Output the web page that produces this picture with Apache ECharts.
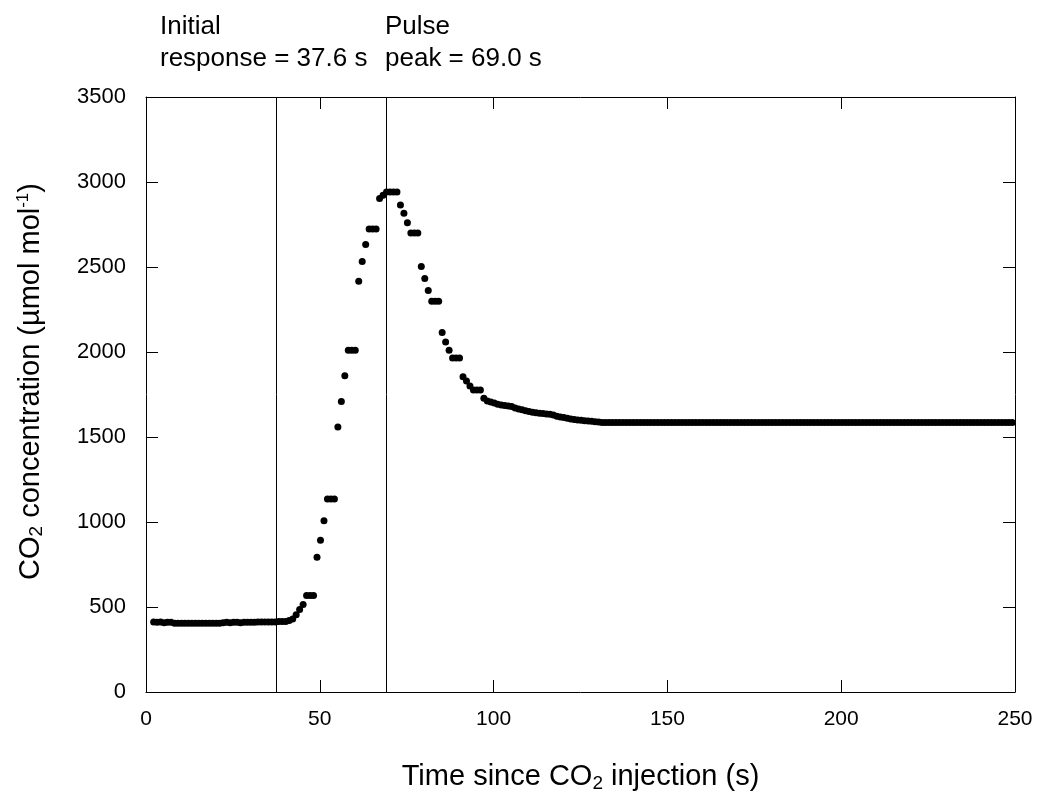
<!DOCTYPE html>
<html>
<head>
<meta charset="utf-8">
<script src="https://cdn.jsdelivr.net/npm/echarts@6/dist/echarts.min.js"></script>
<style>
html,body{margin:0;padding:0;background:#fff;}
#chart{width:1038px;height:798px;}
</style>
</head>
<body>
<div id="chart"></div>
<script>
// ---- data ----
const timeSeconds = [
  2.2,3.2,4.2,5.2,6.2,7.2,8.2,9.2,10.2,11.2,12.2,13.2,14.2,15.2,16.2,17.2,18.2,19.2,20.2,21.2,
  22.2,23.2,24.2,25.2,26.2,27.2,28.2,29.2,30.2,31.2,32.2,33.2,34.2,35.2,36.2,37.2,38.2,39.2,40.2,41.2,
  42.2,43.2,44.2,45.2,46.2,47.2,48.2,49.2,50.2,51.2,52.2,53.2,54.2,55.2,56.2,57.2,58.2,59.2,60.2,61.2,
  62.2,63.2,64.2,65.2,66.2,67.2,68.2,69.2,70.2,71.2,72.2,73.2,74.2,75.2,76.2,77.2,78.2,79.2,80.2,81.2,
  82.2,83.2,84.2,85.2,86.2,87.2,88.2,89.2,90.2,91.2,92.2,93.2,94.2,95.2,96.2,97.2,98.2,99.2,100.2,101.2,
  102.2,103.2,104.2,105.2,106.2,107.2,108.2,109.2,110.2,111.2,112.2,113.2,114.2,115.2,116.2,117.2,118.2,119.2,120.2,121.2,
  122.2,123.2,124.2,125.2,126.2,127.2,128.2,129.2,130.2,131.2,132.2,133.2,134.2,135.2,136.2,137.2,138.2,139.2,140.2,141.2,
  142.2,143.2,144.2,145.2,146.2,147.2,148.2,149.2,150.2,151.2,152.2,153.2,154.2,155.2,156.2,157.2,158.2,159.2,160.2,161.2,
  162.2,163.2,164.2,165.2,166.2,167.2,168.2,169.2,170.2,171.2,172.2,173.2,174.2,175.2,176.2,177.2,178.2,179.2,180.2,181.2,
  182.2,183.2,184.2,185.2,186.2,187.2,188.2,189.2,190.2,191.2,192.2,193.2,194.2,195.2,196.2,197.2,198.2,199.2,200.2,201.2,
  202.2,203.2,204.2,205.2,206.2,207.2,208.2,209.2,210.2,211.2,212.2,213.2,214.2,215.2,216.2,217.2,218.2,219.2,220.2,221.2,
  222.2,223.2,224.2,225.2,226.2,227.2,228.2,229.2,230.2,231.2,232.2,233.2,234.2,235.2,236.2,237.2,238.2,239.2,240.2,241.2,
  242.2,243.2,244.2,245.2,246.2,247.2,248.2,249.2
];
const co2Concentration = [
  412,410,412,408,410,410,405,405,405,405,405,405,405,405,405,405,405,405,405,405,
  408,410,408,410,410,408,410,410,410,410,412,412,412,412,412,412,415,415,415,420,
  430,455,485,515,567,567,567,792,893,1008,1135,1135,1135,1559,1709,1860,2010,2010,2010,2416,
  2532,2632,2723,2723,2723,2903,2922,2941,2941,2941,2941,2864,2816,2760,2700,2700,2700,2503,2433,2362,
  2298,2298,2298,2115,2059,2010,1964,1964,1964,1854,1830,1800,1777,1777,1777,1728,1712,1706,1700,1692,
  1688,1685,1682,1680,1670,1665,1660,1655,1650,1646,1643,1640,1638,1636,1634,1630,1622,1618,1614,1610,
  1606,1603,1600,1598,1596,1594,1592,1590,1588,1585,1585,1585,1585,1585,1585,1585,1585,1585,1585,1585,
  1585,1585,1585,1585,1585,1585,1585,1585,1585,1585,1585,1585,1585,1585,1585,1585,1585,1585,1585,1585,
  1585,1585,1585,1585,1585,1585,1585,1585,1585,1585,1585,1585,1585,1585,1585,1585,1585,1585,1585,1585,
  1585,1585,1585,1585,1585,1585,1585,1585,1585,1585,1585,1585,1585,1585,1585,1585,1585,1585,1585,1585,
  1585,1585,1585,1585,1585,1585,1585,1585,1585,1585,1585,1585,1585,1585,1585,1585,1585,1585,1585,1585,
  1585,1585,1585,1585,1585,1585,1585,1585,1585,1585,1585,1585,1585,1585,1585,1585,1585,1585,1585,1585,
  1585,1585,1585,1585,1585,1585,1585,1585
];
const markerTimes = [37.6, 69.0];
const annotationLines = [["Initial", "response = 37.6 s"], ["Pulse", "peak = 69.0 s"]];
const xTicks = [0, 50, 100, 150, 200, 250];
const yTicks = [0, 500, 1000, 1500, 2000, 2500, 3000, 3500];

// ---- chart ----
const FONT = '"Liberation Sans", Arial, sans-serif';
const points = timeSeconds.map((t, i) => [t, co2Concentration[i]]);
const chart = echarts.init(document.getElementById('chart'), null, {renderer: 'canvas'});

const axisCommon = {
  axisLine: {show: true, onZero: false, lineStyle: {color: '#000', width: 1}},
  axisTick: {show: true, inside: true, length: 12, lineStyle: {color: '#000', width: 1}},
  splitLine: {show: false}
};

const option = {
  backgroundColor: '#fff',
  animation: false,
  grid: {left: 146, right: 23, top: 97, bottom: 97, containLabel: false},
  xAxis: [
    Object.assign({
      type: 'value', min: xTicks[0], max: xTicks[xTicks.length - 1], interval: 50, position: 'bottom',
      axisLabel: {color: '#000', fontSize: 21, fontFamily: FONT, margin: 17},
      name: 'Time since CO{sub|2} injection (s)',
      nameLocation: 'middle', nameGap: 70,
      nameTextStyle: {color: '#000', fontSize: 29, fontFamily: FONT,
        rich: {sub: {fontSize: 19, padding: [0, 0, -14, 0], fontFamily: FONT, color: '#000'}}}
    }, axisCommon),
    Object.assign({
      type: 'value', min: xTicks[0], max: xTicks[xTicks.length - 1], interval: 50, position: 'top',
      axisLabel: {show: false}
    }, axisCommon)
  ],
  yAxis: [
    Object.assign({
      type: 'value', min: yTicks[0], max: yTicks[yTicks.length - 1], interval: 500, position: 'left',
      axisLabel: {color: '#000', fontSize: 22, fontFamily: FONT, margin: 20, formatter: v => String(v)},
      name: 'CO{sub|2} concentration (µmol mol{sup|-1})',
      nameLocation: 'middle', nameGap: 100, nameRotate: 90,
      nameTextStyle: {color: '#000', fontSize: 29, fontFamily: FONT, padding: [0, 0, 0, 26],
        rich: {
          sub: {fontSize: 19, padding: [0, 0, -12, 0], fontFamily: FONT, color: '#000'},
          sup: {fontSize: 17, padding: [0, 0, 14, 0], fontFamily: FONT, color: '#000'}
        }}
    }, axisCommon),
    Object.assign({
      type: 'value', min: yTicks[0], max: yTicks[yTicks.length - 1], interval: 500, position: 'right',
      axisLabel: {show: false}
    }, axisCommon)
  ],
  series: [{
    type: 'scatter',
    xAxisIndex: 0, yAxisIndex: 0,
    data: points,
    symbol: 'circle',
    symbolSize: 7,
    itemStyle: {color: '#000', opacity: 1},
    markLine: {
      silent: true,
      symbol: ['none', 'none'],
      label: {show: false},
      lineStyle: {color: '#000', width: 1, type: 'solid'},
      data: markerTimes.map(t => ({xAxis: t}))
    }
  }],
  graphic: [
    {type: 'text', left: 160, top: 11, style: {text: annotationLines[0].join('\n'), fill: '#000', font: '26px ' + FONT, lineHeight: 32}},
    {type: 'text', left: 385, top: 11, style: {text: annotationLines[1].join('\n'), fill: '#000', font: '26px ' + FONT, lineHeight: 32}}
  ]
};
chart.setOption(option);
</script>
</body>
</html>
